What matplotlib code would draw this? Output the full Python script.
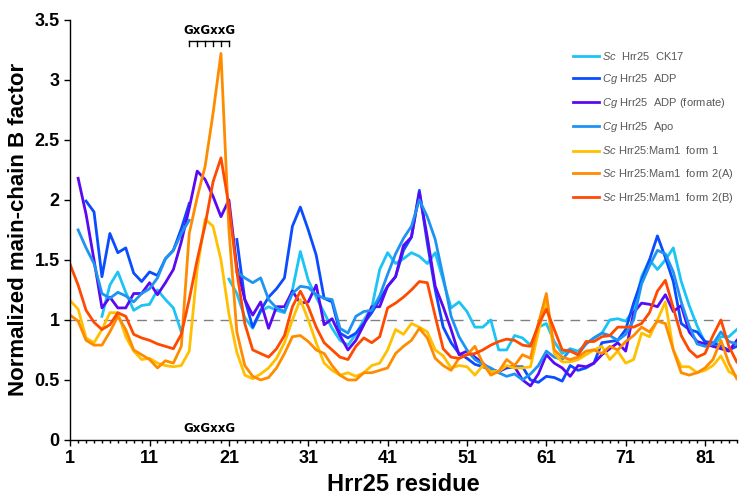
import numpy as np
import matplotlib
matplotlib.use("Agg")
import matplotlib.pyplot as plt

nan = np.nan
residues = np.arange(1, 86)

sc_ck17 = [nan, nan, nan, nan, 1.03, 1.29, 1.40, 1.23, 1.08, 1.12,
           1.13, 1.25, 1.17, 1.10, 0.90, nan, nan, nan, nan, nan,
           1.34, 1.22, 1.02, 0.93, 1.07, 1.11, 1.08, 1.06, 1.25, 1.57,
           1.33, 1.19, 1.06, 0.93, 0.83, 0.79, 0.88, 1.00, 1.10, 1.42,
           1.56, 1.47, 1.51, 1.56, 1.53, 1.47, 1.56, 1.33, 1.10, 1.15,
           1.07, 0.94, 0.94, 1.00, 0.75, 0.75, 0.87, 0.85, 0.79, 0.94,
           0.97, 0.82, 0.72, 0.76, 0.74, 0.80, 0.85, 0.89, 1.00, 1.01,
           0.99, 1.08, 1.36, 1.50, 1.42, 1.50, 1.60, 1.32, 1.12, 0.95,
           0.81, 0.78, 0.86, 0.86, 0.92]
cg_adp = [nan, nan, 1.99, 1.90, 1.36, 1.72, 1.56, 1.60, 1.39, 1.32,
          1.40, 1.37, 1.51, 1.58, 1.76, 1.97, nan, nan, nan, nan,
          nan, 1.67, 1.17, 0.94, 1.08, 1.19, 1.26, 1.35, 1.78, 1.94,
          1.75, 1.54, 1.18, 1.15, 0.89, 0.85, 0.89, 0.97, 1.06, 1.17,
          1.28, 1.36, 1.58, 1.69, 2.08, 1.64, 1.25, 0.94, 0.81, 0.72,
          0.68, 0.63, 0.61, 0.58, 0.57, 0.60, 0.61, 0.61, 0.50, 0.48,
          0.53, 0.52, 0.49, 0.62, 0.58, 0.60, 0.64, 0.81, 0.82, 0.83,
          0.92, 1.14, 1.33, 1.50, 1.70, 1.52, 1.32, 0.97, 0.92, 0.90,
          0.82, 0.81, 0.78, 0.75, 0.78]
cg_adp_formate = [nan, 2.18, 1.88, 1.50, 1.10, 1.19, 1.10, 1.10, 1.22, 1.22,
                  1.31, 1.21, 1.31, 1.42, 1.65, 1.93, 2.24, 2.17, 2.03, 1.86,
                  2.00, 1.44, 1.17, 1.04, 1.15, 0.93, 1.11, 1.11, 1.24, 1.14,
                  1.15, 1.29, 0.96, 1.01, 0.87, 0.75, 0.83, 0.96, 1.11, 1.11,
                  1.28, 1.36, 1.62, 1.69, 2.06, 1.69, 1.28, 1.11, 0.92, 0.71,
                  0.74, 0.69, 0.64, 0.58, 0.57, 0.61, 0.61, 0.50, 0.45, 0.55,
                  0.71, 0.64, 0.60, 0.53, 0.62, 0.61, 0.64, 0.71, 0.76, 0.81,
                  0.74, 1.06, 1.14, 1.13, 1.11, 1.21, 1.07, 1.12, 0.90, 0.82,
                  0.80, 0.78, 0.76, 0.74, 0.83]
cg_apo = [nan, 1.75, 1.60, 1.47, 1.22, 1.18, 1.23, 1.20, 1.15, 1.22,
          1.26, 1.35, 1.51, 1.58, 1.72, 1.83, nan, nan, nan, nan,
          nan, 1.40, 1.35, 1.31, 1.35, 1.17, 1.10, 1.07, 1.22, 1.28,
          1.27, 1.21, 1.18, 1.17, 0.93, 0.89, 1.03, 1.07, 1.08, 1.20,
          1.38, 1.55, 1.68, 1.78, 2.00, 1.86, 1.67, 1.36, 1.03, 0.86,
          0.75, 0.67, 0.63, 0.60, 0.56, 0.53, 0.55, 0.50, 0.55, 0.62,
          0.74, 0.69, 0.67, 0.75, 0.71, 0.80, 0.85, 0.89, 0.87, 0.83,
          0.88, 1.00, 1.30, 1.45, 1.58, 1.55, 1.40, 1.15, 0.95, 0.80,
          0.78, 0.80, 0.90, 0.82, 0.80]
mam1_form1 = [1.16, 1.09, 0.85, 0.81, 0.92, 1.06, 1.06, 0.86, 0.74, 0.67,
              0.68, 0.64, 0.62, 0.61, 0.62, 0.74, 1.42, 1.84, 1.78, 1.50,
              1.05, 0.73, 0.54, 0.51, 0.55, 0.60, 0.68, 0.81, 1.00, 1.17,
              1.00, 0.81, 0.64, 0.58, 0.54, 0.56, 0.53, 0.56, 0.62, 0.64,
              0.75, 0.92, 0.88, 0.97, 0.94, 0.90, 0.75, 0.70, 0.60, 0.62,
              0.61, 0.54, 0.62, 0.57, 0.57, 0.62, 0.60, 0.60, 0.61, 0.90,
              1.17, 0.72, 0.65, 0.65, 0.67, 0.71, 0.75, 0.78, 0.67, 0.74,
              0.64, 0.67, 0.89, 0.86, 1.00, 1.15, 0.75, 0.61, 0.61, 0.56,
              0.58, 0.62, 0.70, 0.57, 0.53]
mam1_form2a = [1.04, 0.99, 0.83, 0.79, 0.79, 0.90, 1.03, 0.92, 0.75, 0.71,
               0.67, 0.60, 0.66, 0.64, 0.78, 1.72, 2.02, 2.28, 2.72, 3.22,
               1.75, 0.90, 0.62, 0.53, 0.50, 0.52, 0.60, 0.72, 0.86, 0.87,
               0.82, 0.75, 0.72, 0.62, 0.54, 0.50, 0.50, 0.56, 0.56, 0.58,
               0.60, 0.72, 0.78, 0.83, 0.93, 0.85, 0.68, 0.62, 0.58, 0.68,
               0.71, 0.78, 0.64, 0.54, 0.57, 0.67, 0.62, 0.71, 0.68, 0.97,
               1.22, 0.75, 0.69, 0.67, 0.69, 0.74, 0.75, 0.72, 0.78, 0.75,
               0.82, 0.87, 0.94, 0.90, 0.99, 0.97, 0.75, 0.56, 0.54, 0.56,
               0.60, 0.67, 0.83, 0.64, 0.51]
mam1_form2b = [1.46, 1.29, 1.08, 0.98, 0.92, 0.96, 1.06, 1.03, 0.88, 0.85,
               0.83, 0.80, 0.78, 0.76, 0.88, 1.17, 1.50, 1.79, 2.15, 2.35,
               1.95, 1.40, 0.97, 0.75, 0.72, 0.69, 0.76, 0.87, 1.11, 1.24,
               1.11, 0.94, 0.81, 0.75, 0.69, 0.67, 0.78, 0.85, 0.81, 0.86,
               1.10, 1.14, 1.19, 1.25, 1.32, 1.31, 1.03, 0.76, 0.69, 0.68,
               0.71, 0.72, 0.75, 0.79, 0.82, 0.84, 0.83, 0.79, 0.78, 0.96,
               1.09, 0.92, 0.75, 0.74, 0.71, 0.82, 0.82, 0.86, 0.87, 0.94,
               0.94, 0.94, 0.97, 1.06, 1.24, 1.33, 1.10, 0.87, 0.75, 0.69,
               0.72, 0.87, 1.00, 0.78, 0.65]

series = [
    (r"$\mathit{Sc}$  Hrr25  CK17", sc_ck17, "#1cc3f5"),
    (r"$\mathit{Cg}$ Hrr25  ADP", cg_adp, "#0a4cff"),
    (r"$\mathit{Cg}$ Hrr25  ADP (formate)", cg_adp_formate, "#5a0af2"),
    (r"$\mathit{Cg}$ Hrr25  Apo", cg_apo, "#1e94f2"),
    (r"$\mathit{Sc}$ Hrr25:Mam1  form 1", mam1_form1, "#ffc000"),
    (r"$\mathit{Sc}$ Hrr25:Mam1  form 2(A)", mam1_form2a, "#ff8c00"),
    (r"$\mathit{Sc}$ Hrr25:Mam1  form 2(B)", mam1_form2b, "#ff4a00"),
]
motif = "GxGxxG"
motif_start, motif_end = 16, 21

plt.rcParams["font.family"] = ["Liberation Sans Narrow", "Liberation Sans", "DejaVu Sans"]
plt.rcParams["mathtext.fontset"] = "custom"
plt.rcParams["mathtext.it"] = "Liberation Sans:italic"
plt.rcParams["mathtext.rm"] = "Liberation Sans"

fig = plt.figure(figsize=(7.39, 4.96), dpi=100)
ax = fig.add_axes([0.095, 0.113, 0.902, 0.847])

ax.axhline(1, color="#808080", linewidth=1.0, dashes=(7, 5), zorder=1)
for label, vals, col in series:
    ax.plot(residues, vals, color=col, linewidth=2.0, label=label, zorder=2)

ax.set_xlim(1, 85)
ax.set_ylim(0, 3.5)
ax.set_xticks(np.arange(1, 86, 10))
ax.set_xticks(np.arange(1, 86, 1), minor=True)
ax.set_yticks(np.arange(0, 3.51, 0.5))
ax.set_yticklabels(["0", "0.5", "1", "1.5", "2", "2.5", "3", "3.5"])
ax.tick_params(axis="both", which="major", labelsize=13, length=4, width=1, direction="out")
ax.tick_params(axis="x", which="minor", length=2.5, width=1, direction="out")
for lab in ax.get_xticklabels() + ax.get_yticklabels():
    lab.set_fontweight("bold")
for s in ["top", "right"]:
    ax.spines[s].set_visible(False)
ax.spines["left"].set_linewidth(1)
ax.spines["bottom"].set_linewidth(1)

ax.set_xlabel("Hrr25 residue", fontsize=17, fontweight="bold",
              family=["Liberation Sans", "DejaVu Sans"])
ax.xaxis.set_label_coords(0.5, -0.079)
ax.set_ylabel("Normalized main-chain B factor", fontsize=16, fontweight="bold",
              family=["Liberation Sans", "DejaVu Sans"])
ax.yaxis.set_label_coords(-0.062, 0.5)

# motif annotation: bracket above and label at the bottom
mid = (motif_start + motif_end) / 2
ax.text(mid, 3.36, motif, ha="center", va="bottom", fontsize=8.5, fontweight="bold",
        family=["DejaVu Sans"])
ax.plot([motif_start, motif_end], [3.32, 3.32], color="black", linewidth=1, clip_on=False)
for r in range(motif_start, motif_end + 1):
    ax.plot([r, r], [3.32, 3.28], color="black", linewidth=1, clip_on=False)
ax.text(mid, 0.04, motif, ha="center", va="bottom", fontsize=8.5, fontweight="bold",
        family=["DejaVu Sans"])

leg = ax.legend(loc="upper left", bbox_to_anchor=(0.74, 0.953), frameon=False,
                fontsize=8, handlelength=2.3, labelspacing=0.92, handletextpad=0.3)
for t in leg.get_texts():
    t.set_color("#595959")
    t.set_family(["Liberation Sans", "DejaVu Sans"])

fig.savefig("out.png", dpi=100)
